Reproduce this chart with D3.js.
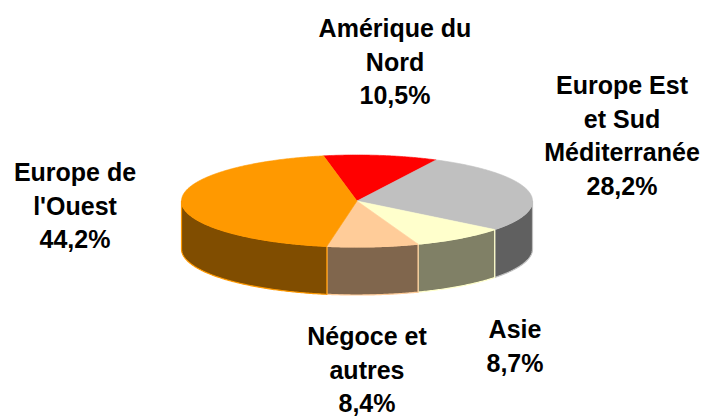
<!DOCTYPE html>
<html>
<head>
<meta charset="utf-8">
<script src="https://cdn.jsdelivr.net/npm/d3@7"></script>
<style>
  body { margin: 0; background: #fff; }
  svg text { font-family: "Liberation Sans", Arial, sans-serif; font-weight: bold; font-size: 25px; fill: #000; }
</style>
</head>
<body>
<svg id="chart" width="707" height="419"></svg>
<script>
// slices, clockwise from the top
const regions = ["Amérique du Nord", "Europe Est et Sud Méditerranée", "Asie", "Négoce et autres", "Europe de l'Ouest"];
const shares = [10.5, 28.2, 8.7, 8.4, 44.2];
const shareLabels = ["10,5%", "28,2%", "8,7%", "8,4%", "44,2%"];
const labelLines = [["Amérique du", "Nord"], ["Europe Est", "et Sud", "Méditerranée"], ["Asie"], ["Négoce et", "autres"], ["Europe de", "l'Ouest"]];
const topColors = ["#ff0000", "#c0c0c0", "#ffffcc", "#ffcc99", "#ff9900"];
const sideColors = ["#800000", "#606060", "#808066", "#80664d", "#804d00"];

const svg = d3.select("#chart");
const cx = 357, cy = 201, rx = 175.5, ry = 46, depth = 48;
const rotation = -11 * Math.PI / 180;

// unit circle -> ellipse
const sx = d3.scaleLinear().domain([-1, 1]).range([cx - rx, cx + rx]);
const sy = d3.scaleLinear().domain([1, -1]).range([cy - ry, cy + ry]);

const pie = d3.pie().sort(null).startAngle(rotation).endAngle(rotation + 2 * Math.PI);
const arcs = pie(shares);

const line = d3.line();
function rim(a0, a1, dy) {
  const n = Math.max(2, Math.ceil(Math.abs(a1 - a0) / 0.01));
  return d3.range(n + 1).map(i => {
    const a = a0 + (a1 - a0) * i / n;
    return [sx(Math.sin(a)), sy(Math.cos(a)) + dy];
  });
}

// side walls: only the front half (PI/2 .. 3PI/2) can be seen
const walls = svg.append("g");
arcs.forEach((d, i) => {
  const lo = Math.max(d.startAngle, Math.PI / 2);
  const hi = Math.min(d.endAngle, 3 * Math.PI / 2);
  if (hi <= lo) return;
  const pts = rim(lo, hi, 0).concat(rim(hi, lo, depth));
  walls.append("path")
    .attr("d", line(pts) + "Z")
    .attr("fill", sideColors[i])
    .attr("stroke", topColors[i])
    .attr("stroke-width", 1.2)
    .attr("stroke-linejoin", "round");
});

// top faces
const tops = svg.append("g");
arcs.forEach((d, i) => {
  const pts = [[cx, cy]].concat(rim(d.startAngle, d.endAngle, 0));
  tops.append("path")
    .attr("d", line(pts) + "Z")
    .attr("fill", topColors[i])
    .attr("stroke", topColors[i])
    .attr("stroke-width", 0.6)
    .attr("stroke-linejoin", "round");
});

// label centres (layout only)
const labelPos = [[395, 28], [622, 85], [515, 329], [367, 336], [75, 172]];
const lineGap = 33.5;

const labels = svg.append("g");
arcs.forEach((d, i) => {
  const t = labels.append("text")
    .attr("text-anchor", "middle")
    .attr("x", labelPos[i][0])
    .attr("y", labelPos[i][1])
    .attr("dominant-baseline", "central");
  labelLines[i].concat([shareLabels[i]]).forEach((s, k) => {
    t.append("tspan")
      .attr("x", labelPos[i][0])
      .attr("y", labelPos[i][1] + k * lineGap)
      .text(s);
  });
});
</script>
</body>
</html>
